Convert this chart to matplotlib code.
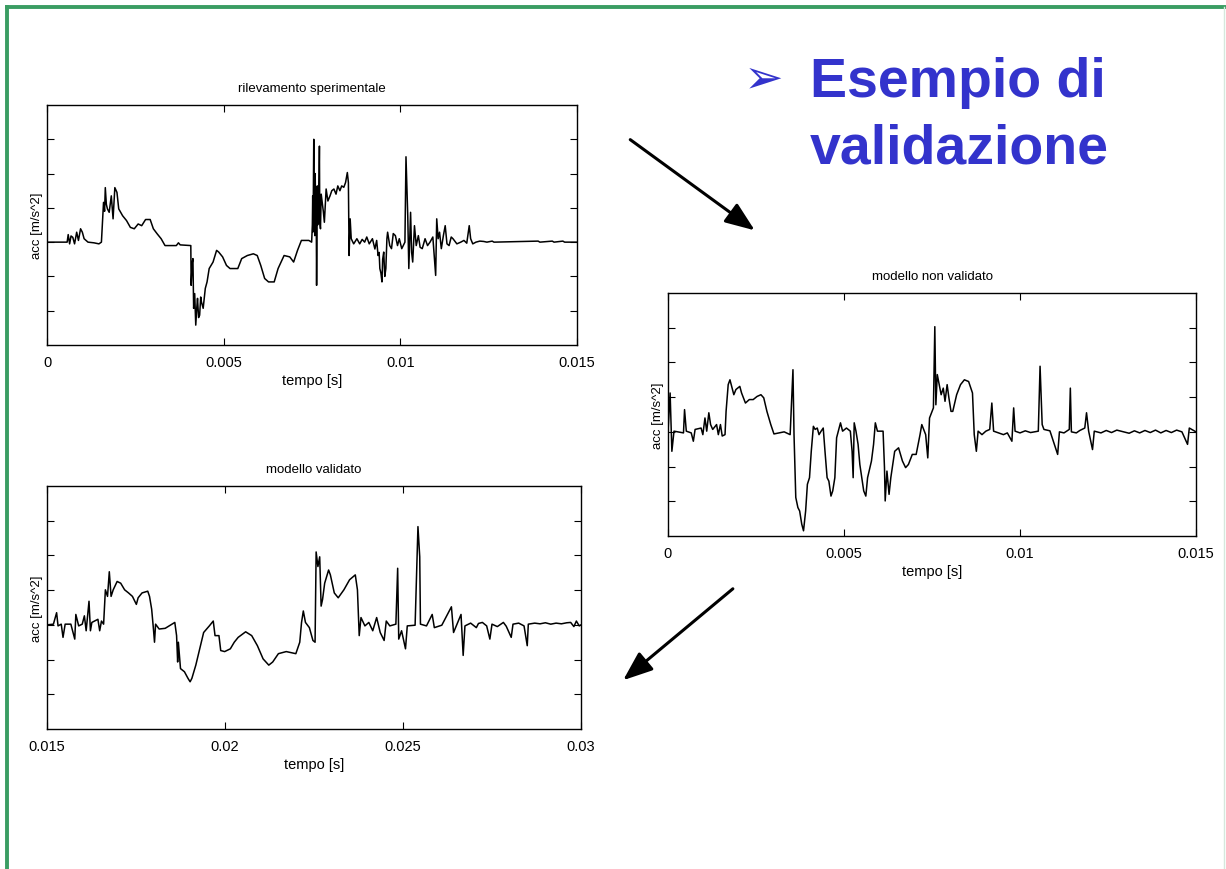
import numpy as np
import matplotlib
matplotlib.use("Agg")
import matplotlib.pyplot as plt
from matplotlib.lines import Line2D
from matplotlib.patches import FancyArrowPatch

plt.rcParams['font.family'] = ['Liberation Sans', 'DejaVu Sans']

# rilevamento sperimentale: time [ms], acc [tick units]
t_exp = [0, 0.57, 0.60, 0.64, 0.68, 0.73, 0.78, 0.84, 0.89, 0.95, 1.00, 1.05, 1.16, 1.33, 1.47, 1.54,
         1.60, 1.63, 1.65, 1.68, 1.71, 1.76, 1.82, 1.87, 1.92, 1.98,
         2.03, 2.14, 2.25, 2.36, 2.47, 2.58, 2.68, 2.79, 2.92, 3.01,
         3.12, 3.23, 3.34, 3.66, 3.72, 3.77, 4.07,
         4.08, 4.11, 4.13, 4.15, 4.18, 4.21, 4.24, 4.26, 4.29, 4.32,
         4.35, 4.37, 4.42, 4.48, 4.53, 4.59, 4.70, 4.80, 4.86, 4.97,
         5.08, 5.18, 5.40, 5.51, 5.67, 5.84, 5.95, 6.05, 6.16, 6.27,
         6.43, 6.54, 6.71, 6.87, 6.98, 7.09, 7.20, 7.41, 7.49,
         7.51, 7.52, 7.53, 7.55, 7.56, 7.58, 7.59, 7.60, 7.62, 7.63,
         7.65, 7.66, 7.68, 7.70, 7.71, 7.72, 7.74, 7.76, 7.79, 7.82,
         7.85, 7.90, 7.95, 8.01, 8.06, 8.12, 8.18, 8.23, 8.29, 8.34,
         8.40, 8.45, 8.50, 8.53,
         8.55, 8.58, 8.61, 8.68, 8.77, 8.85, 8.92, 8.99, 9.05, 9.12,
         9.21, 9.28, 9.33, 9.37, 9.40, 9.42, 9.45, 9.48, 9.50, 9.53,
         9.56, 9.59, 9.62, 9.64, 9.70, 9.75, 9.80, 9.86, 9.92, 9.97,
         10.04, 10.13,
         10.16, 10.21, 10.24, 10.29, 10.32, 10.35, 10.40, 10.45, 10.51, 10.56,
         10.62, 10.70, 10.77, 10.84, 10.92, 11.00, 11.03, 11.07, 11.11, 11.16,
         11.22, 11.27, 11.32, 11.38, 11.44, 11.49, 11.60, 11.71, 11.80, 11.88,
         11.95, 11.99, 12.05, 12.14, 12.25, 12.36, 12.45, 12.60, 12.65, 13.90,
         13.95, 14.30, 14.35, 14.60, 14.65, 15.0]
a_exp = [0, 0, 0.22, -0.05, 0.18, 0.14, -0.05, 0.29, 0.05, 0.39, 0.29, 0.10, 0, -0.02, -0.05, 0,
         1.16, 0.9, 1.59, 1.1, 0.97, 0.87, 1.35, 0.68, 1.59, 1.45,
         0.97, 0.77, 0.63, 0.43, 0.39, 0.53, 0.48, 0.66, 0.66, 0.39,
         0.24, 0.10, -0.10, -0.10, -0.02, -0.08, -0.10,
         -1.26, -0.6, -0.48, -1.93, -1.5, -2.42, -1.9, -1.64, -2.2, -2.13,
         -1.6, -1.74, -1.93, -1.35, -1.16, -0.77, -0.58, -0.24, -0.29, -0.43,
         -0.68, -0.77, -0.77, -0.48, -0.39, -0.34, -0.39, -0.68, -1.06, -1.16,
         -1.16, -0.77, -0.39, -0.43, -0.58, -0.24, 0.05, 0.05, 0,
         0.5, 1.35, 0.3, 3.00, 0.6, 0.19, 2.0, 1.16, 0.8, -1.26,
         1.64, 0.5, 0.68, 1.9, 2.80, 0.6, 0.39, 1.4, 1.16, 0.9,
         0.58, 1.55, 1.2, 1.35, 1.5, 1.55, 1.4, 1.64, 1.5, 1.64,
         1.6, 1.74, 2.03, 1.74,
         -0.39, 0.68, 0.10, -0.05, 0.10, -0.05, 0.08, 0, 0.15, -0.05,
         0.10, -0.2, 0.05, -0.39, -0.3, -0.77, -0.9, -1.16, -0.5, -0.29,
         -1.0, -0.77, 0.1, 0.29, -0.1, -0.19, 0.25, 0.19, -0.1, 0.10,
         -0.19, 0,
         2.49, 0.77, -0.77, 0.87, -0.3, -0.58, 0.48, -0.1, 0.19, -0.15,
         -0.19, 0.1, -0.1, 0, 0.15, -0.97, 0.68, 0.1, 0.29, -0.19,
         0.2, 0.48, -0.05, -0.10, 0.15, 0.10, -0.05, 0, 0.05, -0.03,
         0.48, 0.10, -0.05, 0, 0.03, 0.02, 0, 0.03, 0, 0.03,
         0, 0.03, 0, 0.03, 0, 0]

# modello non validato
t_nv = [0, 0.06, 0.11, 0.17, 0.44, 0.47, 0.52, 0.66, 0.72, 0.77, 0.94, 0.99, 1.05, 1.10, 1.16,
        1.21, 1.27, 1.38, 1.43, 1.49, 1.54, 1.62, 1.65, 1.71, 1.76, 1.82, 1.87, 1.93, 2.04, 2.09,
        2.20, 2.31, 2.42, 2.53, 2.64, 2.72, 2.81, 2.92, 3.01, 3.30, 3.47, 3.55, 3.58, 3.63, 3.69,
        3.74, 3.80, 3.85, 3.91, 3.96, 4.02, 4.07, 4.13, 4.18, 4.24, 4.29, 4.35, 4.41, 4.46, 4.52,
        4.57, 4.63, 4.68, 4.74, 4.79, 4.90, 4.96, 5.07, 5.18, 5.23, 5.26, 5.29, 5.34, 5.40, 5.45,
        5.56, 5.62, 5.67, 5.78, 5.84, 5.89, 5.95, 6.11, 6.15, 6.17, 6.22, 6.28, 6.33, 6.44, 6.55,
        6.66, 6.75, 6.83, 6.94, 7.05, 7.16, 7.21, 7.32, 7.38, 7.43, 7.54, 7.58, 7.61, 7.65, 7.76,
        7.82, 7.87, 7.93, 7.98, 8.04, 8.09, 8.20, 8.31, 8.42, 8.54, 8.65, 8.70, 8.76, 8.81, 8.92,
        9.03, 9.14, 9.20, 9.25, 9.53, 9.64, 9.77, 9.82,
        9.86, 10.00, 10.15, 10.30, 10.52, 10.57, 10.63, 10.68, 10.85, 11.07, 11.12, 11.25, 11.40,
        11.43, 11.46, 11.60, 11.70, 11.84, 11.89, 11.95, 12.06, 12.11, 12.30, 12.45, 12.60, 12.75,
        12.94, 13.10, 13.25, 13.40, 13.55, 13.70, 13.85, 14.00, 14.15, 14.30, 14.45, 14.60, 14.76,
        14.81, 15.0]
a_nv = [0, 1.12, -0.56, 0.02, -0.03, 0.64, 0.02, -0.03, -0.27, 0.07, 0.11, -0.08, 0.40, 0.02, 0.55,
        0.21, 0.07, 0.21, -0.08, 0.21, -0.12, -0.08, 0.59, 1.36, 1.50, 1.26, 1.07, 1.22, 1.31, 1.12,
        0.83, 0.93, 0.93, 1.02, 1.07, 0.98, 0.59, 0.21, -0.06, 0, -0.08, 1.79, -0.08, -1.89, -2.18,
        -2.28, -2.66, -2.85, -2.28, -1.51, -1.32, -0.56, 0.16, 0.07, 0.11, -0.08, 0.02, 0.11, -0.56, -1.32,
        -1.42, -1.85, -1.70, -1.32, -0.17, 0.26, 0.02, 0.11, 0.02, -0.56, -1.32, 0.26, 0.02, -0.36, -0.94,
        -1.70, -1.85, -1.32, -0.84, -0.36, 0.26, 0.02, 0.02, -1.03, -1.99, -1.13, -1.80, -1.32, -0.56, -0.46,
        -0.84, -1.03, -0.94, -0.65, -0.65, -0.08, 0.21, -0.08, -0.75, 0.40, 0.69, 3.03, 0.78, 1.65, 1.07,
        1.26, 0.88, 1.36, 0.98, 0.59, 0.59, 1.07, 1.36, 1.50, 1.45, 1.12, -0.08, -0.56, 0.02, -0.08,
        0.02, 0.07, 0.83, 0.02, -0.08, -0.03, -0.27, 0.69,
        0.02, -0.03, 0.03, -0.02, 0.02, 1.89, 0.21, 0.07, 0.03, -0.65, 0, -0.03, 0.07,
        1.26, 0, -0.03, 0.04, 0.11, 0.55, 0.02, -0.51, 0.02, -0.03, 0.04, -0.02, 0.05,
        0, -0.04, 0.03, -0.03, 0.04, -0.02, 0.05, -0.03, 0.04, -0.02, 0.05, 0, -0.36,
        0.11, 0]

# modello validato
t_val = [15.00, 15.18, 15.27, 15.31, 15.40, 15.45, 15.51, 15.67, 15.78, 15.81, 15.89, 15.99, 16.05,
         16.10, 16.18, 16.22, 16.26, 16.43, 16.48, 16.53, 16.59, 16.64, 16.70, 16.75, 16.80, 16.86,
         16.97, 17.07, 17.18, 17.29, 17.40, 17.51, 17.56, 17.67, 17.83, 17.88, 17.94, 17.99, 18.02,
         18.05, 18.15, 18.32, 18.59, 18.64, 18.67, 18.69, 18.75, 18.86, 18.96, 19.02, 19.07, 19.18,
         19.29, 19.40, 19.56, 19.67, 19.72, 19.83, 19.88, 19.99, 20.15, 20.26, 20.37, 20.58, 20.75,
         20.91, 21.07, 21.23, 21.34, 21.50, 21.72, 21.99, 22.10, 22.15, 22.20, 22.26, 22.37, 22.47,
         22.53, 22.56, 22.61, 22.66, 22.70, 22.74, 22.80, 22.91, 22.96, 23.07, 23.18, 23.34, 23.50,
         23.66, 23.72, 23.77, 23.82, 23.93, 24.04, 24.15, 24.26, 24.36, 24.47, 24.53, 24.63, 24.80,
         24.85, 24.88, 24.96, 25.07, 25.12, 25.34, 25.42, 25.47, 25.49, 25.66, 25.82, 25.88, 26.09,
         26.36, 26.42, 26.63, 26.69,
         26.74, 26.90, 27.06, 27.12, 27.23, 27.35, 27.44, 27.50, 27.65, 27.82, 27.90, 28.04, 28.09,
         28.25, 28.40, 28.49, 28.52, 28.70, 28.85, 29.00, 29.15, 29.30, 29.45, 29.60, 29.71, 29.80,
         29.87, 29.95, 30.0]
a_val = [0, 0.02, 0.35, -0.03, 0.02, -0.36, 0.02, 0.02, -0.41, 0.30, -0.03, 0.02, 0.26,
         -0.17, 0.68, -0.17, 0.07, 0.16, -0.17, 0.11, 0.02, 1.01, 0.82, 1.53, 0.82, 1.01,
         1.25, 1.20, 1.01, 0.92, 0.82, 0.59, 0.78, 0.92, 0.97, 0.82, 0.45, -0.12, -0.50,
         0.02, -0.12, -0.10, 0.07, -0.31, -1.07, -0.50, -1.26, -1.35, -1.54, -1.64, -1.54, -1.16,
         -0.69, -0.22, -0.03, 0.11, -0.31, -0.31, -0.74, -0.77, -0.69, -0.50, -0.36, -0.20, -0.31,
         -0.60, -0.98, -1.16, -1.07, -0.83, -0.77, -0.83, -0.50, 0.07, 0.40, 0.07, -0.08, -0.45,
         -0.50, 2.10, 1.68, 1.96, 0.54, 0.73, 1.20, 1.58, 1.44, 0.92, 0.78, 1.01, 1.30,
         1.44, 1.01, -0.31, 0.21, -0.03, 0.07, -0.17, 0.21, -0.22, -0.45, 0.11, -0.03, 0.02,
         1.63, -0.41, -0.17, -0.69, -0.03, -0.01, 2.83, 1.96, 0.02, -0.03, 0.30, -0.08, -0.01,
         0.52, -0.22, 0.30, -0.88,
         -0.03, 0.05, -0.08, 0.04, 0.07, -0.03, -0.41, 0.02, -0.05, 0.07, -0.04, -0.36, 0.02,
         0.05, -0.03, -0.60, 0.02, 0.05, 0.03, 0.06, 0.02, 0.05, 0.03, 0.06, 0.07, -0.05,
         0.11, -0.03, 0]

titles = ["rilevamento sperimentale", "modello non validato", "modello validato"]
xticks_a = [0, 0.005, 0.01, 0.015]
xlabels_a = ["0", "0.005", "0.01", "0.015"]
xticks_b = [0.015, 0.02, 0.025, 0.03]
xlabels_b = ["0.015", "0.02", "0.025", "0.03"]

fig = plt.figure(figsize=(12.26, 8.7), dpi=100)
W, H = 1226, 870

def make_ax(px_left, px_top, px_right, px_bottom, t, a, title, xt, xl, xlim):
    ax = fig.add_axes([px_left / W, 1 - px_bottom / H, (px_right - px_left) / W, (px_bottom - px_top) / H])
    ax.plot(np.array(t) / 1000.0, a, color='black', lw=1.1)
    ax.set_xlim(xlim)
    ax.set_ylim(-3, 4)
    ax.set_xticks(xt)
    ax.set_xticklabels(xl)
    ax.set_yticks([-2, -1, 0, 1, 2, 3])
    ax.set_yticklabels([])
    ax.tick_params(direction='in', top=True, right=True, length=5, width=0.8, labelsize=10.5)
    ax.tick_params(axis='x', pad=7)
    ax.tick_params(axis='y', pad=1)
    for s in ax.spines.values():
        s.set_linewidth(1.0)
    ax.set_title(title, fontsize=9.5, pad=10)
    ax.set_xlabel("tempo [s]", fontsize=10.5, labelpad=3)
    ax.set_ylabel("acc [m/s^2]", fontsize=9.5, labelpad=2)
    return ax

make_ax(47, 106, 577, 346, t_exp, a_exp, titles[0], xticks_a, xlabels_a, (0, 0.015))
make_ax(668, 294, 1196, 537, t_nv, a_nv, titles[1], xticks_a, xlabels_a, (0, 0.015))
make_ax(47, 487, 581, 730, t_val, a_val, titles[2], xticks_b, xlabels_b, (0.015, 0.03))

# slide border
green = '#3a9d63'
fig.add_artist(Line2D([7 / W, 7 / W], [0, 1 - 8 / H], transform=fig.transFigure, color=green, lw=2.8))
fig.add_artist(Line2D([7 / W, 1], [1 - 8 / H, 1 - 8 / H], transform=fig.transFigure, color=green, lw=2.8))
fig.add_artist(Line2D([1224 / W, 1224 / W], [0, 1 - 8 / H], transform=fig.transFigure, color='#d5e8dc', lw=1))

# heading
blue = '#3333cc'
fig.text(744 / W, 1 - 80 / H, "\u27a2", color=blue, fontsize=34, family=['DejaVu Sans'], va='center')
fig.text(810 / W, 1 - 97 / H, "Esempio di", color=blue, fontsize=40, fontweight='bold', va='baseline')
fig.text(810 / W, 1 - 163 / H, "validazione", color=blue, fontsize=40, fontweight='bold', va='baseline')

# arrows
for (x0, y0), (x1, y1) in [((628, 139), (757, 233)), ((735, 588), (621, 683))]:
    arr = FancyArrowPatch((x0 / W, 1 - y0 / H), (x1 / W, 1 - y1 / H), transform=fig.transFigure,
                          arrowstyle='-|>,head_length=18,head_width=7', mutation_scale=1,
                          color='black', lw=2.2)
    fig.add_artist(arr)

fig.savefig("out.png", dpi=100)
